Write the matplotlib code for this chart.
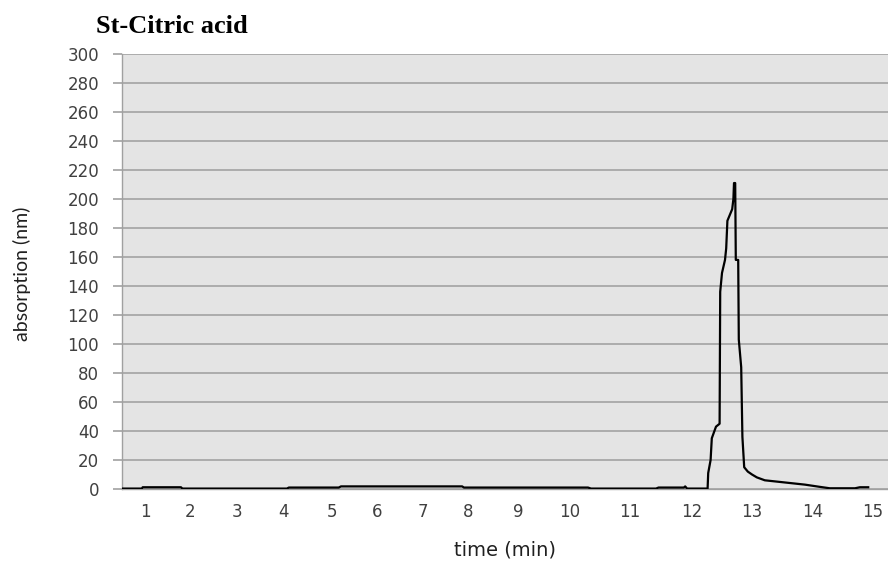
import numpy as np
import matplotlib
matplotlib.use("Agg")
import matplotlib.pyplot as plt

# ---- data ----
time_min = [0.50, 0.93, 0.95, 1.80, 1.83, 4.08, 4.12, 5.15, 5.20, 7.87, 7.91,
            10.30, 10.35, 11.42, 11.46, 11.87, 11.89, 11.92, 12.26,
            12.27, 12.31, 12.33, 12.40, 12.46, 12.47, 12.50, 12.55, 12.57,
            12.59, 12.63, 12.67, 12.69, 12.70, 12.72, 12.73, 12.77, 12.78,
            12.82, 12.84, 12.87, 12.93, 13.00, 13.08, 13.21, 13.54, 13.87,
            14.11, 14.28, 14.70, 14.78, 14.92]
absorption = [0.3, 0.3, 1.2, 1.2, 0.3, 0.3, 1.0, 1.0, 1.8, 1.8, 1.0,
              1.0, 0.3, 0.3, 1.0, 1.0, 1.8, 0.3, 0.3,
              11, 20, 35, 43, 45, 136, 149, 158, 166,
              185, 189, 193, 200, 211, 211, 158, 158, 103,
              84, 36, 15, 12, 10, 8, 6, 4.5, 3,
              1.5, 0.5, 0.5, 1.2, 1.2]

x_tick_labels = list(range(1, 16))
y_ticks = list(range(0, 301, 20))

# Excel-like category axis: label positions are not evenly spaced
axis_minutes = [0.5] + x_tick_labels + [15.25]
axis_positions = [0, 23, 68, 115, 161, 210, 255, 301, 346, 396, 448, 508,
                  570, 630, 691, 751, 766]

def fwd(x):
    return np.interp(x, axis_minutes, axis_positions)

def inv(p):
    return np.interp(p, axis_positions, axis_minutes)

W, H = 888, 565
fig = plt.figure(figsize=(W / 100, H / 100), dpi=100)
ax = fig.add_axes([122 / W, (H - 489) / H, (888 - 122) / W, (489 - 54) / H])
ax.set_xscale("function", functions=(fwd, inv))
ax.set_facecolor("#e4e4e4")

ax.plot(time_min, absorption, color="black", lw=1.6, zorder=3)

ax.set_xlim(0.5, 15.25)
ax.set_ylim(0, 300)
ax.set_yticks(y_ticks)
ax.set_xticks(x_tick_labels)
ax.set_xticklabels([str(v) for v in x_tick_labels])
ax.minorticks_off()

ax.grid(axis="y", color="#a8a8a8", lw=1.3, zorder=1)
ax.grid(axis="x", visible=False)
ax.set_axisbelow(True)

for s in ["top", "right"]:
    ax.spines[s].set_visible(False)
ax.spines["left"].set_color("#a0a0a0")
ax.spines["left"].set_linewidth(1.0)
ax.spines["bottom"].set_color("#a0a0a0")
ax.spines["bottom"].set_linewidth(1.0)

font = "DejaVu Sans"
ax.tick_params(axis="y", length=6.5, color="#a8a8a8", width=1.3, pad=10,
               labelsize=12, labelcolor="#404040")
ax.tick_params(axis="x", length=0, pad=10, labelsize=12, labelcolor="#404040")
for lab in ax.get_xticklabels() + ax.get_yticklabels():
    lab.set_fontfamily(font)

fig.text(22 / W, 1 - 274 / H, "absorption (nm)", rotation=90, ha="center",
         va="center", fontsize=14, family="Lato", color="#202020")
fig.text(505 / W, 1 - 550 / H, "time (min)", ha="center", va="center",
         fontsize=14, family="DejaVu Sans", color="#202020")
fig.text(96 / W, 1 - 33 / H, "St-Citric acid", ha="left", va="baseline",
         fontsize=19, family="Liberation Serif", weight="bold", color="black")

fig.savefig("out.png", dpi=100)
